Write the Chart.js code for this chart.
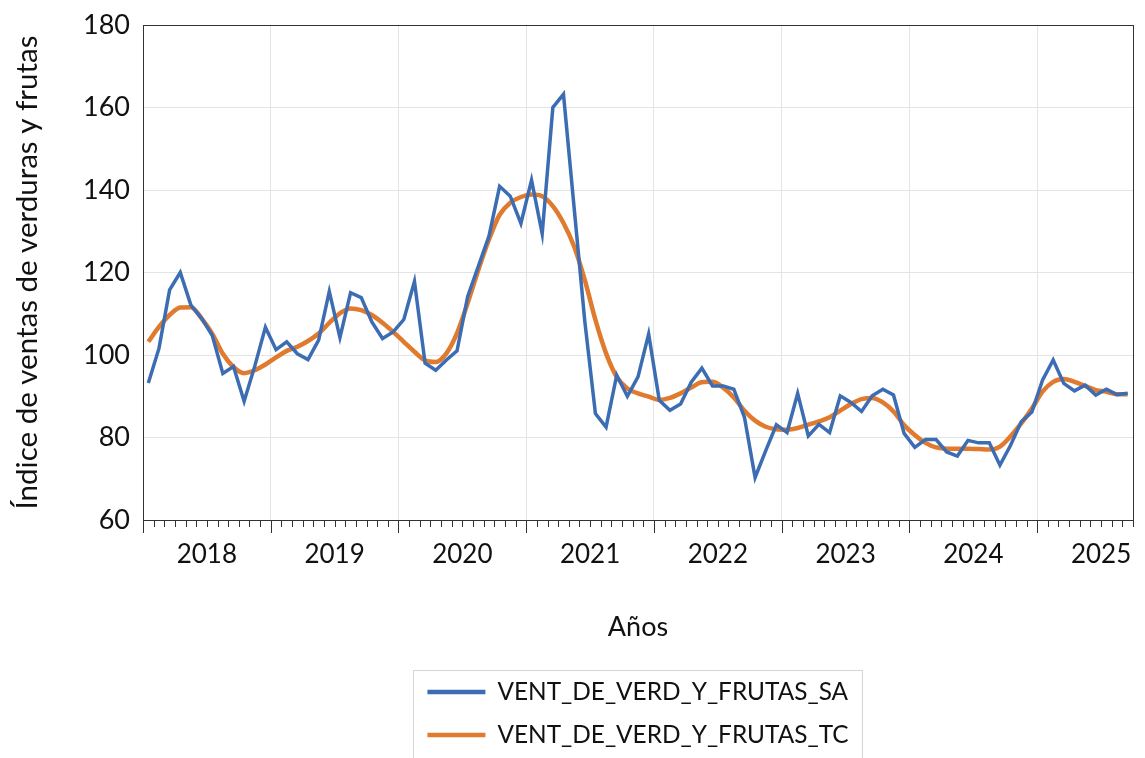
<!DOCTYPE html>
<html>
<head>
<meta charset="utf-8">
<script src="https://cdn.jsdelivr.net/npm/chart.js"></script>
<style>
  html, body { margin: 0; padding: 0; background: #fff; }
</style>
</head>
<body>
<canvas id="grafico" width="1145" height="758"></canvas>
<script>
// Datos mensuales ene-2018 .. sep-2025
const anios = ['2018', '2019', '2020', '2021', '2022', '2023', '2024', '2025'];
const ventasSA = [
  93.2, 101.6, 115.8, 120.0, 112.1, 108.9, 104.8, 95.5, 97.2, 88.8, 97.3, 106.7,
  101.3, 103.2, 100.3, 98.9, 103.6, 115.4, 104.2, 115.1, 113.9, 108.0, 104.0, 105.6,
  108.6, 117.8, 98.0, 96.3, 98.8, 101.0, 114.2, 121.5, 128.8, 140.9, 138.5, 131.9,
  142.4, 129.4, 160.0, 163.2, 135.7, 108.2, 85.8, 82.5, 95.1, 90.0, 94.7, 105.1,
  89.0, 86.6, 88.1, 93.4, 96.8, 92.5, 92.5, 91.7, 84.9, 70.3, 76.8, 83.1,
  81.2, 90.7, 80.4, 83.2, 81.2, 90.1, 88.5, 86.3, 90.1, 91.7, 90.3, 81.0,
  77.6, 79.5, 79.5, 76.5, 75.5, 79.3, 78.7, 78.7, 73.3, 78.1, 83.8, 86.2,
  93.9, 98.8, 93.1, 91.3, 92.7, 90.3, 91.7, 90.4, 90.7
];
const ventasTC = [
  103.2, 106.8, 109.7, 111.5, 111.6, 108.9, 105.2, 100.3, 97.1, 95.6, 96.3, 97.7,
  99.4, 101.0, 102.0, 103.4, 105.2, 107.8, 110.1, 111.3, 110.9, 109.7, 107.8, 105.6,
  103.2, 100.8, 98.7, 98.3, 100.4, 105.3, 112.6, 120.6, 128.0, 134.0, 136.9, 138.3,
  138.9, 138.5, 136.1, 132.0, 126.3, 118.2, 108.5, 100.4, 94.7, 91.9, 90.7, 89.9,
  89.1, 89.6, 90.7, 92.1, 93.4, 93.5, 92.1, 89.7, 86.5, 84.1, 82.6, 82.0,
  81.9, 82.3, 83.1, 83.9, 84.9, 86.5, 88.1, 89.3, 89.6, 88.5, 86.3, 83.0,
  80.6, 78.7, 77.6, 77.3, 77.3, 77.3, 77.2, 77.1, 77.8, 80.3, 83.4, 87.0,
  91.1, 93.5, 94.2, 93.5, 92.5, 91.5, 91.1, 90.5, 90.5
];
const nombresSeries = ['VENT_DE_VERD_Y_FRUTAS_SA', 'VENT_DE_VERD_Y_FRUTAS_TC'];
const tituloY = 'Índice de ventas de verduras y frutas';
const tituloX = 'Años';

const totalMeses = ventasSA.length;
const fuente = 'Lato, "Noto Sans", sans-serif';
Chart.defaults.font.family = fuente;
Chart.defaults.color = '#111';

// cada mes se dibuja en el centro de su intervalo
const aPuntos = serie => serie.map((v, i) => ({ x: i + 0.5, y: v }));

// marco del area y marcas mensuales / anuales del eje x
const marcoPlugin = {
  id: 'marco',
  afterDraw(chart) {
    const { ctx, chartArea: a, scales: { x } } = chart;
    ctx.save();
    ctx.strokeStyle = '#333';
    ctx.lineWidth = 1;
    ctx.strokeRect(Math.round(a.left) + 0.5, Math.round(a.top) + 0.5, Math.round(a.right - a.left), Math.round(a.bottom - a.top));
    for (let m = 0; m <= totalMeses; m++) {
      const px = Math.round(x.getPixelForValue(m)) + 0.5;
      const largo = m % 12 === 0 ? 13 : 7;
      ctx.beginPath();
      ctx.moveTo(px, a.bottom);
      ctx.lineTo(px, a.bottom + largo);
      ctx.stroke();
    }
    ctx.restore();
  }
};

// leyenda en recuadro, una serie por fila
const leyendaPlugin = {
  id: 'leyendaCaja',
  afterDraw(chart) {
    const { ctx, chartArea: a } = chart;
    const sets = chart.data.datasets;
    ctx.save();
    ctx.font = '24.4px ' + fuente;
    const anchoTexto = Math.max(...sets.map(d => ctx.measureText(d.label).width));
    const anchoCaja = 14 + 58 + 12 + anchoTexto + 14;
    const izq = (a.left + a.right) / 2 - anchoCaja / 2;
    const arriba = 670;
    ctx.strokeStyle = '#d6d6d6';
    ctx.lineWidth = 1;
    ctx.strokeRect(Math.round(izq) + 0.5, arriba + 0.5, Math.round(anchoCaja), 110);
    sets.forEach((d, i) => {
      const yc = arriba + 22 + i * 43;
      ctx.strokeStyle = d.borderColor;
      ctx.lineWidth = 4.5;
      ctx.beginPath();
      ctx.moveTo(izq + 14, yc);
      ctx.lineTo(izq + 72, yc);
      ctx.stroke();
      ctx.fillStyle = '#111';
      ctx.textBaseline = 'middle';
      ctx.textAlign = 'left';
      ctx.fillText(d.label, izq + 84, yc);
    });
    ctx.restore();
  }
};

new Chart(document.getElementById('grafico'), {
  type: 'line',
  data: {
    datasets: [
      {
        label: nombresSeries[0],
        data: aPuntos(ventasSA),
        borderColor: '#3c6db3',
        borderWidth: 3.5,
        pointRadius: 0,
        tension: 0
      },
      {
        label: nombresSeries[1],
        data: aPuntos(ventasTC),
        borderColor: '#e07a2e',
        borderWidth: 4.5,
        pointRadius: 0,
        cubicInterpolationMode: 'monotone'
      }
    ]
  },
  options: {
    responsive: false,
    animation: false,
    layout: { padding: { left: 0, right: 12, top: 25, bottom: 115 } },
    plugins: { legend: { display: false }, tooltip: { enabled: false } },
    scales: {
      x: {
        type: 'linear',
        min: 0,
        max: totalMeses,
        afterFit: s => { s.height = 123; s.paddingLeft = 0; s.paddingRight = 0; },
        grid: {
          drawTicks: false,
          color: c => (c.tick.value % 12 === 0 && c.tick.value > 0 && c.tick.value < totalMeses) ? '#e4e4e4' : 'rgba(0,0,0,0)'
        },
        border: { display: false },
        ticks: {
          stepSize: 1,
          autoSkip: false,
          maxRotation: 0,
          padding: 19,
          font: { size: 26 },
          color: '#111',
          callback: v => (v % 12 === 6) ? anios[(v - 6) / 12] : ''
        },
        title: {
          display: true,
          text: tituloX,
          font: { size: 27 },
          color: '#111',
          padding: { top: 0, bottom: 0 }
        }
      },
      y: {
        min: 60,
        max: 180,
        afterFit: s => { s.width = 143; s.paddingTop = 0; s.paddingBottom = 0; },
        grid: {
          drawTicks: false,
          color: c => (c.tick.value === 180 || c.tick.value === 60) ? 'rgba(0,0,0,0)' : '#e4e4e4'
        },
        border: { display: false },
        ticks: { stepSize: 20, padding: 13, font: { size: 27 }, color: '#111' },
        title: {
          display: true,
          text: tituloY,
          font: { size: 29.5 },
          color: '#111',
          padding: { top: 10, bottom: 0 }
        }
      }
    }
  },
  plugins: [marcoPlugin, leyendaPlugin]
});
</script>
</body>
</html>
